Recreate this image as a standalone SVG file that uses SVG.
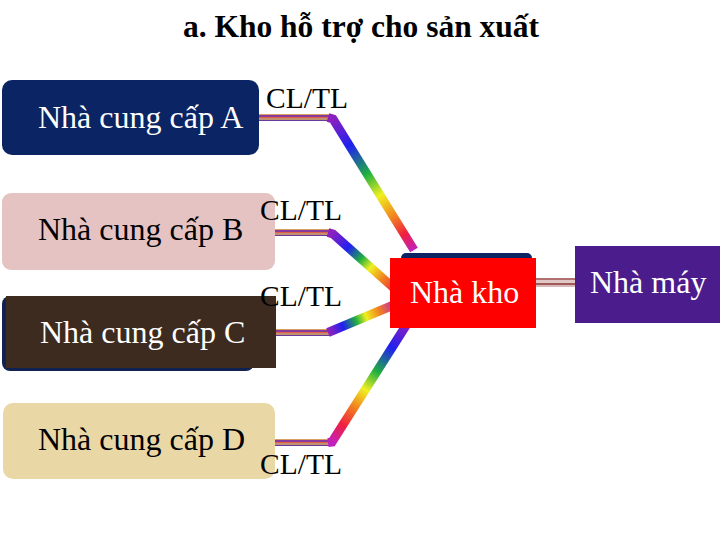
<svg xmlns="http://www.w3.org/2000/svg" width="720" height="540" viewBox="0 0 720 540">
<style>
.t{font-family:"Liberation Serif","Times New Roman",serif;}
.box{font-size:32px;}
.lbl{font-size:29.5px;fill:#000;}
.w{fill:#fff;}
.k{fill:#000;}
.diag{fill:none;stroke-width:9;stroke-linecap:butt;}
</style>
<defs>
<linearGradient id="stripe" x1="0" y1="0" x2="0" y2="1">
<stop offset="0" stop-color="#d8a060"/><stop offset="0.2" stop-color="#d8a060"/>
<stop offset="0.2" stop-color="#8a3a9a"/><stop offset="0.4" stop-color="#8a3a9a"/>
<stop offset="0.4" stop-color="#e0604a"/><stop offset="0.6" stop-color="#e0604a"/>
<stop offset="0.6" stop-color="#c09070"/><stop offset="0.8" stop-color="#c09070"/>
<stop offset="0.8" stop-color="#6a3a9a"/><stop offset="1" stop-color="#6a3a9a"/>
</linearGradient>
<linearGradient id="stripe2" x1="0" y1="0" x2="0" y2="1">
<stop offset="0" stop-color="#b07070"/><stop offset="0.25" stop-color="#b07070"/>
<stop offset="0.25" stop-color="#e0c8c8"/><stop offset="0.5" stop-color="#e0c8c8"/>
<stop offset="0.5" stop-color="#a05a5a"/><stop offset="0.75" stop-color="#a05a5a"/>
<stop offset="0.75" stop-color="#d8b8b8"/><stop offset="1" stop-color="#d8b8b8"/>
</linearGradient>
<linearGradient id="gA" gradientUnits="userSpaceOnUse" x1="332" y1="120" x2="414" y2="250">
<stop offset="0" stop-color="#8a20c0"/><stop offset="0.2" stop-color="#2020f0"/>
<stop offset="0.42" stop-color="#20b040"/><stop offset="0.58" stop-color="#f0f020"/>
<stop offset="0.75" stop-color="#f08020"/><stop offset="0.88" stop-color="#f02040"/>
<stop offset="1" stop-color="#c020c0"/>
</linearGradient>
<linearGradient id="gB" gradientUnits="userSpaceOnUse" x1="332" y1="234" x2="396" y2="290">
<stop offset="0" stop-color="#8a20c0"/><stop offset="0.25" stop-color="#2020f0"/>
<stop offset="0.45" stop-color="#20b040"/><stop offset="0.6" stop-color="#f0f020"/>
<stop offset="0.8" stop-color="#f08020"/><stop offset="1" stop-color="#f02040"/>
</linearGradient>
<linearGradient id="gC" gradientUnits="userSpaceOnUse" x1="330" y1="332" x2="396" y2="305">
<stop offset="0" stop-color="#8a20c0"/><stop offset="0.2" stop-color="#2020f0"/>
<stop offset="0.4" stop-color="#20b040"/><stop offset="0.55" stop-color="#f0f020"/>
<stop offset="0.75" stop-color="#f08020"/><stop offset="1" stop-color="#c020c0"/>
</linearGradient>
<linearGradient id="gD" gradientUnits="userSpaceOnUse" x1="332" y1="443" x2="406" y2="324">
<stop offset="0" stop-color="#c020c0"/><stop offset="0.15" stop-color="#f02040"/>
<stop offset="0.3" stop-color="#f08020"/><stop offset="0.45" stop-color="#f0f020"/>
<stop offset="0.6" stop-color="#20b040"/><stop offset="0.8" stop-color="#2020f0"/>
<stop offset="1" stop-color="#8a20c0"/>
</linearGradient>
</defs>
<rect width="720" height="540" fill="#fff"/>
<text class="t" x="361" y="37" font-size="31.5" font-weight="bold" text-anchor="middle" fill="#000">a. Kho hỗ trợ cho sản xuất</text>

<g id="connectors">
<rect x="259" y="114" width="72" height="7" fill="url(#stripe)"/>
<polyline class="diag" points="328,117.5 333,119 414,250" stroke="url(#gA)"/>
<rect x="259" y="229" width="72" height="7" fill="url(#stripe)"/>
<polyline class="diag" points="328,232.5 333,234 396,290" stroke="url(#gB)"/>
<rect x="259" y="329" width="72" height="7" fill="url(#stripe)"/>
<polyline class="diag" points="328,332.5 396,304" stroke="url(#gC)"/>
<rect x="259" y="439" width="72" height="7" fill="url(#stripe)"/>
<polyline class="diag" points="328,442.5 332,442 407,324" stroke="url(#gD)"/>
<rect x="534" y="278" width="46" height="9" fill="url(#stripe2)"/>
</g>

<g id="nodeA">
<rect x="2" y="80" width="257" height="75" rx="10" fill="#0b2463"/>
<text class="t box w" x="38" y="128">Nhà cung cấp A</text>
</g>
<g id="nodeB">
<rect x="2" y="193" width="273" height="77" rx="9" fill="#e6c3c3"/>
<text class="t box k" x="38" y="240">Nhà cung cấp B</text>
</g>
<g id="nodeC">
<rect x="2" y="296" width="252" height="75" rx="8" fill="#0f2252"/>
<rect x="6" y="296" width="270" height="72" fill="#3d2b1f"/>
<text class="t box w" x="40" y="343">Nhà cung cấp C</text>
</g>
<g id="nodeD">
<rect x="3" y="403" width="272" height="76" rx="10" fill="#ead7a6"/>
<text class="t box k" x="38" y="450">Nhà cung cấp D</text>
</g>
<g id="nodeKho">
<rect x="401" y="253" width="131" height="12" rx="5" fill="#0b2463"/>
<rect x="390" y="258" width="146" height="70" fill="#ff0000"/>
<text class="t box w" x="410" y="303">Nhà kho</text>
</g>
<g id="nodeMay">
<rect x="575" y="246" width="145" height="77" fill="#4b1d8c"/>
<text class="t box w" x="590" y="293">Nhà máy</text>
</g>

<g id="labelA"><text class="t lbl" x="266" y="108">CL/TL</text></g>
<g id="labelB"><text class="t lbl" x="260" y="220">CL/TL</text></g>
<g id="labelC"><text class="t lbl" x="260" y="306">CL/TL</text></g>
<g id="labelD"><text class="t lbl" x="260" y="474">CL/TL</text></g>
</svg>
